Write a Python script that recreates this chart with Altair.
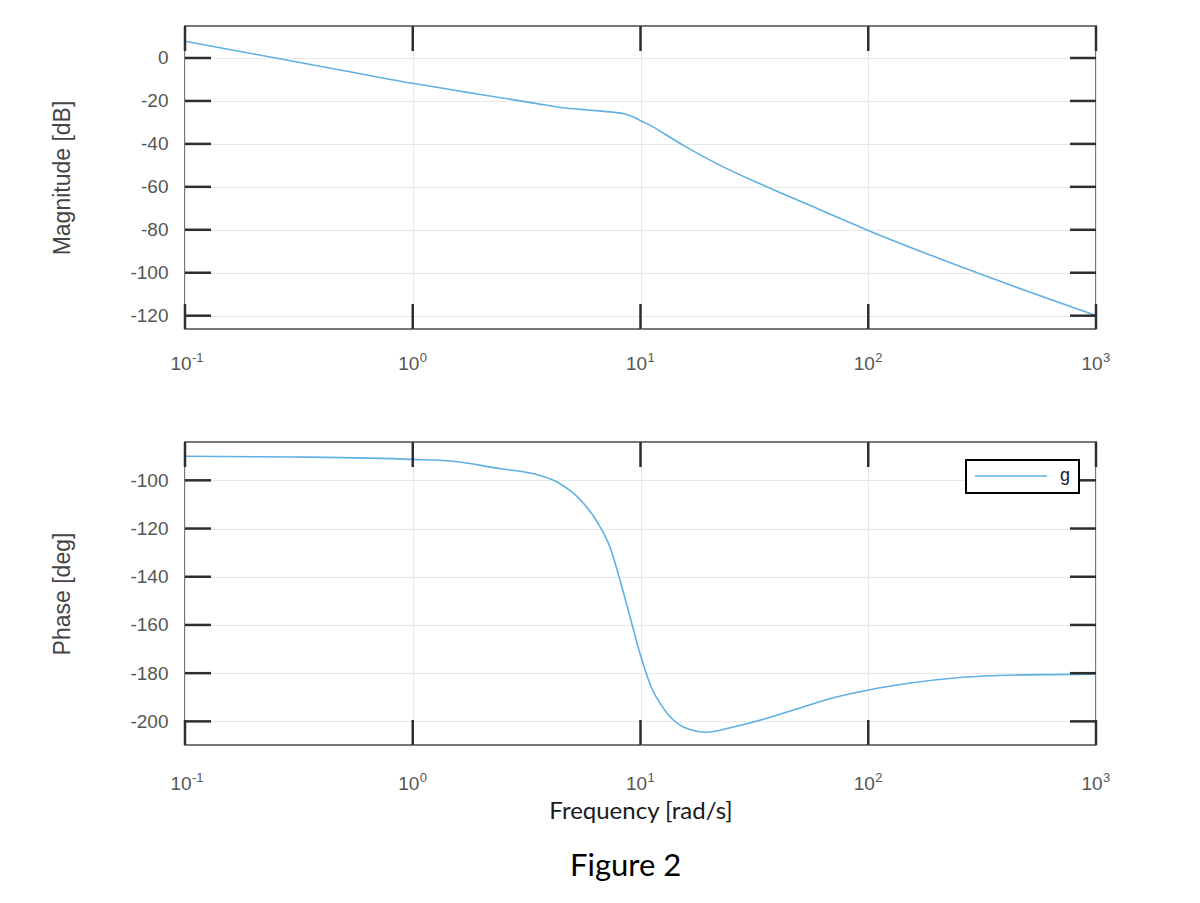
import altair as alt
import pandas as pd

# ---- data (Bode plot of g) ----
freq_mag = [0.1, 0.2, 0.5, 1.0, 1.74, 3.4, 4.76, 5.84, 7.64, 8.46, 9.35, 10.0,
            11.1, 13.1, 15.5, 21.7, 35.0, 60.0, 100.0, 309.0, 1000.0]
mag_db = [7.8, 1.9, -5.9, -11.8, -16.0, -21.0, -23.4, -24.2, -25.3, -26.0, -27.6,
          -29.2, -31.5, -36.1, -40.8, -49.3, -59.5, -70.2, -80.3, -100.5, -119.9]

freq_ph = [0.1, 0.3, 1.0, 1.47, 2.43, 3.4, 4.31, 5.64, 6.46, 7.39, 8.17, 9.04,
           10.0, 11.07, 12.66, 15.5, 19.6, 25.6, 35.0, 47.0, 66.0, 99.0, 153.0,
           253.0, 497.0, 1000.0]
phase_deg = [-90.0, -90.3, -91.3, -92.0, -95.2, -97.3, -100.7, -109.7, -117.3,
             -128.4, -142.2, -157.4, -172.6, -185.1, -194.8, -202.4, -204.5,
             -202.3, -199.0, -195.3, -190.9, -187.1, -184.1, -181.8, -180.7, -180.4]

x_ticks = [0.1, 1, 10, 100, 1000]
x_tick_base = ["10", "10", "10", "10", "10"]
x_tick_exponents = ["-1", "0", "1", "2", "3"]
mag_ticks = [-120, -100, -80, -60, -40, -20, 0]
ph_ticks = [-200, -180, -160, -140, -120, -100]
series_name = ["g"]

W, H = 911, 303
LINE = "#5fb0e3"
TICK = "#2e2e2e"
LABEL = "#555555"
FONT = "Liberation Sans"

mag_df = pd.DataFrame({"freq": freq_mag, "val": mag_db})
ph_df = pd.DataFrame({"freq": freq_ph, "val": phase_deg, "series": series_name * len(freq_ph)})
xt_df = pd.DataFrame({"freq": x_ticks, "base": x_tick_base, "exp": x_tick_exponents})


def panel(df, ydomain, yticks, ytitle, xtitle, legend, label_base):
    xs = alt.Scale(type="log", domain=[0.1, 1000], nice=False)
    ys = alt.Scale(domain=ydomain, nice=False, zero=False)
    xaxis_kw = dict(values=x_ticks, labels=False, grid=True, ticks=False,
                    tickSize=0, domain=False, gridColor="#e8e8e8")
    if xtitle:
        xaxis = alt.Axis(title=xtitle, titleFont="Lato", titleFontSize=24,
                         titleFontWeight="normal", titleColor="#1a1a1a",
                         titleBaseline="middle", titleY=66, **xaxis_kw)
    else:
        xaxis = alt.Axis(title=None, **xaxis_kw)
    yaxis = alt.Axis(values=yticks, grid=True, ticks=False, tickSize=0, domain=False,
                     labelExpr="'' + datum.value",
                     labelPadding=17, labelFont=FONT, labelFontSize=19,
                     labelColor=LABEL, gridColor="#e8e8e8", title=ytitle,
                     titleFont=FONT, titleFontSize=23, titleFontWeight="normal",
                     titleColor="#444444", titleAngle=-90, titleX=-123,
                     titleY=H / 2, titleAlign="center", titleBaseline="middle")

    if legend:
        color = alt.Color("series:N", scale=alt.Scale(range=[LINE]),
                          legend=alt.Legend(title=None, orient="none", legendX=781,
                                            legendY=18, strokeColor="black",
                                            fillColor="white", padding=8,
                                            symbolType="stroke", symbolSize=5184,
                                            symbolStrokeWidth=1.6,
                                            symbolStrokeColor=LINE, clipHeight=16,
                                            labelFont=FONT, labelFontSize=18,
                                            labelColor="#222222", labelOffset=12))
    else:
        color = alt.value(LINE)

    line = alt.Chart(df).mark_line(strokeWidth=1.6, interpolate="monotone").encode(
        x=alt.X("freq:Q", scale=xs, axis=xaxis),
        y=alt.Y("val:Q", scale=ys, axis=yaxis),
        color=color,
    )
    yt_df = pd.DataFrame({"val": yticks})
    rule_kw = dict(color=TICK, strokeWidth=2.5)
    top_t = alt.Chart(xt_df).mark_rule(**rule_kw).encode(
        x=alt.X("freq:Q", scale=xs, axis=xaxis), y=alt.value(0), y2=alt.value(25))
    bot_t = alt.Chart(xt_df).mark_rule(**rule_kw).encode(
        x=alt.X("freq:Q", scale=xs, axis=xaxis), y=alt.value(H - 25), y2=alt.value(H))
    left_t = alt.Chart(yt_df).mark_rule(**rule_kw).encode(
        y=alt.Y("val:Q", scale=ys, axis=yaxis), x=alt.value(0), x2=alt.value(26))
    right_t = alt.Chart(yt_df).mark_rule(**rule_kw).encode(
        y=alt.Y("val:Q", scale=ys, axis=yaxis), x=alt.value(W - 26), x2=alt.value(W))
    bases = alt.Chart(xt_df).mark_text(align="center", baseline="alphabetic", dx=-4,
                                       font=FONT, fontSize=19, color=LABEL).encode(
        x=alt.X("freq:Q", scale=xs, axis=xaxis), y=alt.value(H + label_base),
        text="base:N")
    exps = alt.Chart(xt_df).mark_text(align="left", baseline="alphabetic", dx=7,
                                      font=FONT, fontSize=13, color=LABEL).encode(
        x=alt.X("freq:Q", scale=xs, axis=xaxis), y=alt.value(H + label_base - 8),
        text="exp:N")
    return alt.layer(line, top_t, bot_t, left_t, right_t, bases, exps).properties(
        width=W, height=H)


top = panel(mag_df, [-126.2, 14.9], mag_ticks, "Magnitude [dB]", None, False, 41)
bottom = panel(ph_df, [-209.8, -84.1], ph_ticks, "Phase [deg]", "Frequency [rad/s]", True, 45)

chart = alt.vconcat(top, bottom, spacing=113, bounds="flush").resolve_scale(
    color="independent"
).properties(
    padding={"left": 50, "top": 23, "right": 5, "bottom": 5},
    title=alt.TitleParams("Figure 2", orient="bottom", anchor="middle", font="Lato",
                          fontSize=31, fontWeight="normal", color="black",
                          offset=28, dx=45),
).configure_view(stroke="#777777", strokeWidth=2).configure_legend(strokeWidth=2)

chart.save("out.html", embed_options={"renderer": "svg", "actions": False})
